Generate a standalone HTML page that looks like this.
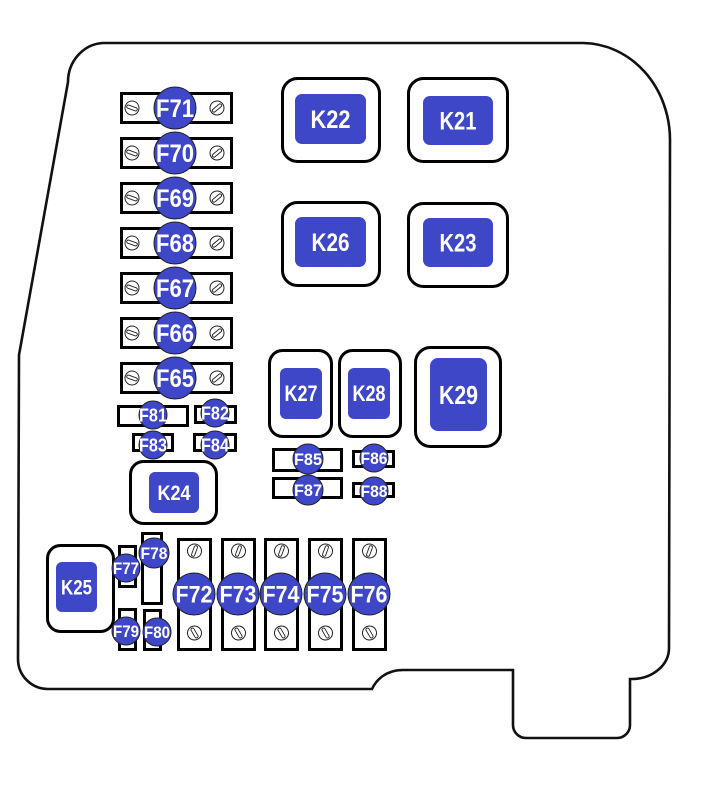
<!DOCTYPE html>
<html><head><meta charset="utf-8"><style>
html,body{margin:0;padding:0;background:#fff;}
svg{display:block;}
text{font-family:"Liberation Sans",Arial,sans-serif;font-weight:bold;fill:#fff;text-anchor:middle;}
</style></head><body>
<svg width="728" height="792" viewBox="0 0 728 792" xmlns="http://www.w3.org/2000/svg">
<rect width="728" height="792" fill="#fff"/>
<!-- outline -->
<path d="M103,43 L583,43 A88,97 0 0 1 670,140 L669,648 A37,31 0 0 1 632,679 L630,679 L630,725 A13,13 0 0 1 617,738 L526,738 A13,13 0 0 1 513,725 L513,670 L403,670 C386,670 376,680 372,689 L48,689 A30,30 0 0 1 18,659 L19,355 L68,82 A37,39 0 0 1 103,43 Z" fill="#fff" stroke="#111" stroke-width="2.6"/>

<defs>
<g id="scr"><circle r="7" fill="#fff" stroke="#222" stroke-width="1"/><rect x="-5.5" y="-1.6" width="11" height="3.2" rx="1.6" fill="none" stroke="#222" stroke-width="0.9"/></g>
</defs>

<!-- top fuse rows -->
<g stroke="#000" stroke-width="3" fill="#fff">
<rect x="121.5" y="93.5" width="110" height="29"/>
<rect x="121.5" y="138.5" width="110" height="29"/>
<rect x="121.5" y="183.5" width="110" height="29"/>
<rect x="121.5" y="228.5" width="110" height="29"/>
<rect x="121.5" y="273.5" width="110" height="29"/>
<rect x="121.5" y="318.5" width="110" height="29"/>
<rect x="121.5" y="363.5" width="110" height="29"/>
</g>
<g>
<use href="#scr" transform="translate(132,108) rotate(20)"/><use href="#scr" transform="translate(217,108) rotate(-40)"/>
<use href="#scr" transform="translate(132,153) rotate(20)"/><use href="#scr" transform="translate(217,153) rotate(-40)"/>
<use href="#scr" transform="translate(132,198) rotate(20)"/><use href="#scr" transform="translate(217,198) rotate(-40)"/>
<use href="#scr" transform="translate(132,243) rotate(20)"/><use href="#scr" transform="translate(217,243) rotate(-40)"/>
<use href="#scr" transform="translate(132,288) rotate(20)"/><use href="#scr" transform="translate(217,288) rotate(-40)"/>
<use href="#scr" transform="translate(132,333) rotate(20)"/><use href="#scr" transform="translate(217,333) rotate(-40)"/>
<use href="#scr" transform="translate(132,378) rotate(20)"/><use href="#scr" transform="translate(217,378) rotate(-40)"/>
</g>
<g fill="#3f47c9" stroke="#222" stroke-width="1">
<circle cx="175" cy="108" r="21"/><circle cx="175" cy="153" r="21"/><circle cx="175" cy="198" r="21"/>
<circle cx="175" cy="243" r="21"/><circle cx="175" cy="288" r="21"/><circle cx="175" cy="333" r="21"/>
<circle cx="175" cy="378" r="21"/>
</g>
<g font-size="25">
<text x="175" y="117" textLength="38" lengthAdjust="spacingAndGlyphs">F71</text>
<text x="175" y="162" textLength="38" lengthAdjust="spacingAndGlyphs">F70</text>
<text x="175" y="207" textLength="38" lengthAdjust="spacingAndGlyphs">F69</text>
<text x="175" y="252" textLength="38" lengthAdjust="spacingAndGlyphs">F68</text>
<text x="175" y="297" textLength="38" lengthAdjust="spacingAndGlyphs">F67</text>
<text x="175" y="342" textLength="38" lengthAdjust="spacingAndGlyphs">F66</text>
<text x="175" y="387" textLength="38" lengthAdjust="spacingAndGlyphs">F65</text>
</g>

<!-- relays outer -->
<g fill="#fff" stroke="#000" stroke-width="3">
<rect x="282.5" y="78.5" width="97" height="83" rx="15"/>
<rect x="408.5" y="78.5" width="99" height="83" rx="15"/>
<rect x="282.5" y="202.5" width="97" height="83" rx="15"/>
<rect x="408.5" y="203.5" width="99" height="83" rx="15"/>
<rect x="269.5" y="350.5" width="62" height="86" rx="13"/>
<rect x="339.5" y="350.5" width="61" height="86" rx="13"/>
<rect x="415.5" y="347.5" width="85" height="99" rx="15"/>
<rect x="130.5" y="461.5" width="86" height="62" rx="13"/>
<rect x="47.5" y="545.5" width="66" height="86" rx="13"/>
</g>
<g fill="#3f47c9">
<rect x="295" y="94" width="71" height="50" rx="7"/>
<rect x="423" y="96" width="70" height="49" rx="7"/>
<rect x="295" y="217" width="71" height="50" rx="7"/>
<rect x="423" y="218" width="70" height="49" rx="7"/>
<rect x="280" y="368" width="42" height="51" rx="6"/>
<rect x="348" y="368" width="42" height="51" rx="6"/>
<rect x="430" y="358" width="57" height="73" rx="8"/>
<rect x="149" y="472" width="50" height="41" rx="6"/>
<rect x="56" y="562" width="41" height="50" rx="6"/>
</g>
<text x="330.5" y="128" font-size="25" textLength="40" lengthAdjust="spacingAndGlyphs">K22</text>
<text x="458" y="129.5" font-size="25" textLength="37" lengthAdjust="spacingAndGlyphs">K21</text>
<text x="330.5" y="251" font-size="25" textLength="38" lengthAdjust="spacingAndGlyphs">K26</text>
<text x="458" y="251.5" font-size="25" textLength="37" lengthAdjust="spacingAndGlyphs">K23</text>
<text x="301" y="401" font-size="22" textLength="33" lengthAdjust="spacingAndGlyphs">K27</text>
<text x="369" y="401" font-size="22" textLength="33" lengthAdjust="spacingAndGlyphs">K28</text>
<text x="458.5" y="404" font-size="26" textLength="39" lengthAdjust="spacingAndGlyphs">K29</text>
<text x="174" y="500" font-size="21" textLength="33" lengthAdjust="spacingAndGlyphs">K24</text>
<text x="76.5" y="594.5" font-size="21" textLength="31" lengthAdjust="spacingAndGlyphs">K25</text>

<!-- small fuse boxes -->
<g fill="#fff" stroke="#000" stroke-width="3">
<rect x="118.5" y="406.5" width="69" height="19"/>
<rect x="195.5" y="406.5" width="40" height="16"/>
<rect x="133.5" y="434.5" width="39" height="16"/>
<rect x="194.5" y="434.5" width="41" height="16"/>
<rect x="273.5" y="449.5" width="68" height="21"/>
<rect x="353.5" y="451.5" width="40" height="15"/>
<rect x="273.5" y="478.5" width="68" height="19"/>
<rect x="353.5" y="483.5" width="40" height="13"/>
<rect x="119.5" y="546.5" width="16" height="40"/>
<rect x="142.5" y="533.5" width="19" height="70"/>
<rect x="119.5" y="609.5" width="16" height="40"/>
<rect x="144.5" y="610.5" width="16" height="39"/>
<rect x="178.5" y="539.5" width="32" height="110"/>
<rect x="222.5" y="539.5" width="32" height="110"/>
<rect x="265.5" y="539.5" width="32" height="110"/>
<rect x="309.5" y="539.5" width="32" height="110"/>
<rect x="353.5" y="539.5" width="32" height="110"/>
</g>
<g>
<use href="#scr" transform="translate(194.5,551) rotate(-70)"/><use href="#scr" transform="translate(194.5,633) rotate(60)"/>
<use href="#scr" transform="translate(238.5,551) rotate(-70)"/><use href="#scr" transform="translate(238.5,633) rotate(60)"/>
<use href="#scr" transform="translate(281.5,551) rotate(-70)"/><use href="#scr" transform="translate(281.5,633) rotate(60)"/>
<use href="#scr" transform="translate(325.5,551) rotate(-70)"/><use href="#scr" transform="translate(325.5,633) rotate(60)"/>
<use href="#scr" transform="translate(369.5,551) rotate(-70)"/><use href="#scr" transform="translate(369.5,633) rotate(60)"/>
</g>
<g fill="#3f47c9" stroke="#222" stroke-width="1">
<circle cx="153" cy="415" r="14"/>
<circle cx="215" cy="413" r="14"/>
<circle cx="153" cy="445" r="14"/>
<circle cx="215" cy="445" r="14"/>
<circle cx="308" cy="459" r="15"/>
<circle cx="374" cy="458" r="14"/>
<circle cx="308" cy="490" r="15"/>
<circle cx="374" cy="491" r="14"/>
<circle cx="126" cy="568" r="14"/>
<circle cx="154" cy="553" r="15"/>
<circle cx="126" cy="631" r="14"/>
<circle cx="157" cy="632" r="14"/>
<circle cx="194" cy="594" r="21"/>
<circle cx="238" cy="594" r="21"/>
<circle cx="281" cy="594" r="21"/>
<circle cx="325" cy="594" r="21"/>
<circle cx="369" cy="594" r="21"/>
</g>
<g font-size="18">
<text x="153" y="421.5" textLength="28" lengthAdjust="spacingAndGlyphs">F81</text>
<text x="215" y="419.5" textLength="28" lengthAdjust="spacingAndGlyphs">F82</text>
<text x="153" y="451.5" textLength="28" lengthAdjust="spacingAndGlyphs">F83</text>
<text x="215" y="451.5" textLength="28" lengthAdjust="spacingAndGlyphs">F84</text>
</g>
<g font-size="17">
<text x="308" y="465" textLength="28" lengthAdjust="spacingAndGlyphs">F85</text>
<text x="374" y="464" textLength="27" lengthAdjust="spacingAndGlyphs">F86</text>
<text x="308" y="496" textLength="28" lengthAdjust="spacingAndGlyphs">F87</text>
<text x="374" y="497" textLength="27" lengthAdjust="spacingAndGlyphs">F88</text>
<text x="126" y="574" textLength="26" lengthAdjust="spacingAndGlyphs">F77</text>
<text x="154" y="559" textLength="27" lengthAdjust="spacingAndGlyphs">F78</text>
<text x="126" y="637" textLength="26" lengthAdjust="spacingAndGlyphs">F79</text>
<text x="157" y="638" textLength="26" lengthAdjust="spacingAndGlyphs">F80</text>
</g>
<g font-size="24">
<text x="194" y="602.5" textLength="37" lengthAdjust="spacingAndGlyphs">F72</text>
<text x="238" y="602.5" textLength="37" lengthAdjust="spacingAndGlyphs">F73</text>
<text x="281" y="602.5" textLength="37" lengthAdjust="spacingAndGlyphs">F74</text>
<text x="325" y="602.5" textLength="37" lengthAdjust="spacingAndGlyphs">F75</text>
<text x="369" y="602.5" textLength="37" lengthAdjust="spacingAndGlyphs">F76</text>
</g>
</svg>
</body></html>
